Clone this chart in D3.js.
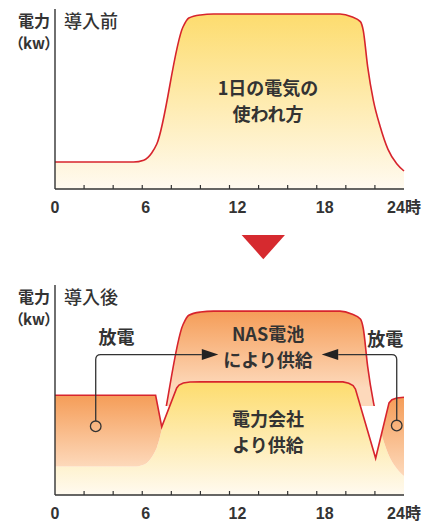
<!DOCTYPE html>
<html><head><meta charset="utf-8">
<script src="https://cdn.jsdelivr.net/npm/d3@7"></script>
<style>
html,body{margin:0;padding:0;background:#fff;}
svg{display:block;}
text{font-family:"Noto Sans CJK JP","Noto Sans",sans-serif;fill:#333;}
</style></head><body>
<svg id="chart" width="436" height="521"></svg>
<script>
// ---- data (hours of day, power in relative kw units) ----
const demandHours = [0,5.4,6.1,6.65,7.0,8.8,9.2,10,10.9,19.6,20.4,21.0,21.2,21.5,21.9,22.35,22.9,23.5,24];
const demand      = [15,15,16,20,25,90,95,96.7,97.2,97.2,95.7,93,88,68,49,35,22,14,10];
const supplyHours = [0,6.92,7.34,8.37,8.53,8.82,9.28,10,19.8,20.2,20.5,20.66,22.05,22.97,23.17,23.5,24];
const supply      = [52.7,52.7,36,56.6,58.1,59.2,59.7,59.8,59.8,59.1,57.8,56,19.4,48.7,50.4,51.3,51.7];
const labelHours  = [0,6,12,18,24];
const tickLabels  = ["0","6","12","18","24時"];
const minorHours  = [2,4,6,8,10,12,14,16,18,20,22];
const nasFloor    = 47;

const demandPts = demandHours.map((h,i)=>({h, v:demand[i]}));
const supplyPts = supplyHours.map((h,i)=>({h, v:supply[i]}));

const svg = d3.select("#chart");
const defs = svg.append("defs");
const RED = "#d7242d", INK = "#333";

const x  = d3.scaleLinear().domain([0,24]).range([55,404]);
const yT = d3.scaleLinear().domain([0,100]).range([189,9]);
const yB = d3.scaleLinear().domain([0,111]).range([495,285]);

function grad(id, y1, y2, c1, c2){
  const g = defs.append("linearGradient").attr("id",id)
    .attr("gradientUnits","userSpaceOnUse").attr("x1",0).attr("x2",0).attr("y1",y1).attr("y2",y2);
  g.append("stop").attr("offset",0).attr("stop-color",c1);
  g.append("stop").attr("offset",1).attr("stop-color",c2);
}
const YEL1="#fddc6e", YEL2="#fffaf0", OR1="#f59d58", OR2="#fdd9bb";
grad("gTop", yT(d3.max(demand)), yT(0), YEL1, YEL2);
grad("gBase", yB(d3.max(supply)), yB(0), YEL1, YEL2);
grad("gNas", yB(d3.max(demand)), yB(d3.max(supply))+6, OR1, OR2);
grad("gChL", yB(supply[0]), yB(demand[0]), OR1, OR2);
grad("gChR", yB(supply[supply.length-1]), yB(demand[demand.length-1]), OR1, OR2);

// ---------- top chart ----------
const areaT = d3.area().x(d=>x(d.h)).y0(yT(0)).y1(d=>yT(d.v)).curve(d3.curveMonotoneX);
const lineT = d3.line().x(d=>x(d.h)).y(d=>yT(d.v)).curve(d3.curveMonotoneX);
svg.append("path").attr("d",areaT(demandPts)).attr("fill","url(#gTop)");
svg.append("path").attr("d",lineT(demandPts)).attr("fill","none").attr("stroke",RED).attr("stroke-width",1.6);

// ---------- bottom chart ----------
const vMax = yB.domain()[1];
const dArea = (y0)=>d3.area().x(d=>x(d.h)).y0(y0).y1(d=>yB(d.v)).curve(d3.curveMonotoneX);
const sArea = (y0)=>d3.area().x(d=>x(d.h)).y0(y0).y1(d=>yB(d.v)).curve(d3.curveLinear);
function clip(id, d){ defs.append("clipPath").attr("id",id).append("path").attr("d",d); }
clip("underDemand", dArea(yB(0))(demandPts));
clip("aboveDemand", dArea(yB(vMax))(demandPts));
clip("aboveSupply", sArea(yB(vMax))(supplyPts));
defs.append("clipPath").attr("id","aboveFloor").append("rect")
  .attr("x",x(0)).attr("y",yB(vMax)).attr("width",x(24)-x(0)).attr("height",yB(nasFloor)-yB(vMax));

// base: supplied by power company
svg.append("path").attr("d",sArea(yB(0))(supplyPts)).attr("fill","url(#gBase)").attr("clip-path","url(#underDemand)");
// charging regions (night)
const gCh = svg.append("g").attr("clip-path","url(#aboveDemand)");
gCh.append("path").attr("d",sArea(yB(0))(supplyPts.filter(d=>d.h<=12))).attr("fill","url(#gChL)");
gCh.append("path").attr("d",sArea(yB(0))(supplyPts.filter(d=>d.h>=12))).attr("fill","url(#gChR)");
// NAS supply region
svg.append("g").attr("clip-path","url(#aboveFloor)").append("g").attr("clip-path","url(#aboveSupply)")
  .append("path").attr("d",dArea(yB(0))(demandPts)).attr("fill","url(#gNas)");
// red lines
const lineS = d3.line().x(d=>x(d.h)).y(d=>yB(d.v)).curve(d3.curveLinear);
const lineD = d3.line().x(d=>x(d.h)).y(d=>yB(d.v)).curve(d3.curveMonotoneX);
svg.append("path").attr("d",lineS(supplyPts)).attr("fill","none").attr("stroke",RED).attr("stroke-width",1.6).attr("stroke-linejoin","miter");
svg.append("g").attr("clip-path","url(#aboveFloor)").append("path").attr("d",lineD(demandPts))
  .attr("fill","none").attr("stroke",RED).attr("stroke-width",1.6);

// ---------- axes ----------
function axes(y, labelY, title){
  const y0 = y(0), y1 = y.range()[1];
  svg.append("line").attr("x1",x(0)).attr("x2",x(0)).attr("y1",y1).attr("y2",y0).attr("stroke",INK).attr("stroke-width",1.4);
  svg.append("line").attr("x1",x(0)).attr("x2",x(24)).attr("y1",y0).attr("y2",y0).attr("stroke",INK).attr("stroke-width",1.4);
  svg.selectAll(null).data(minorHours).enter().append("line")
    .attr("x1",d=>x(d)).attr("x2",d=>x(d)).attr("y1",y0).attr("y2",y0-4).attr("stroke",INK).attr("stroke-width",1.2);
  svg.selectAll(null).data(labelHours).enter().append("text")
    .attr("x",d=>x(d)).attr("y",labelY)
    .attr("text-anchor",(d,i)=> (i===0||i===labelHours.length-1) ? "middle" : "start")
    .attr("dx",(d,i)=> (i===0||i===labelHours.length-1) ? 0 : -1)
    .style("font-family",'"Liberation Sans","Noto Sans CJK JP",sans-serif')
    .style("font-weight","bold").style("font-size","16px")
    .text((d,i)=>tickLabels[i]);
  const t = svg.append("text").attr("text-anchor","middle")
    .style("font-weight","bold").style("font-feature-settings",'"palt"');
  t.append("tspan").attr("x",34).attr("y",y1+18).style("font-size","16px").text("電力");
  t.append("tspan").attr("x",34).attr("y",y1+40).style("font-size","15px").text("（kw）");
  svg.append("text").attr("x",x(0)+9).attr("y",y1+19)
    .style("font-size","18px").style("font-weight","500").text(title);
}
axes(yT, 213, "導入前");
axes(yB, 519, "導入後");

// ---------- annotations ----------
const LINE_H = 26.3;
function label(lines, h, v, y){
  const cy = y(v), n = lines.length;
  lines.forEach((s,i)=>{
    svg.append("text").attr("x",x(h)).attr("y",cy + (i-(n-1)/2)*LINE_H).attr("dy","0.36em")
      .attr("text-anchor","middle").style("font-size","18px").style("font-weight","bold").text(s);
  });
}
label(["1日の電気の","使われ方"], 14.65, 48.6, yT);
label(["NAS電池","により供給"], 14.65, 78.0, yB);
label(["電力会社","より供給"], 14.65, 33.2, yB);
label(["放電"], 4.23, 83.2, yB);
label(["放電"], 22.71, 82.1, yB);

// arrows from discharge circles
function arrow(ch, cv, av, tipH){
  const cx = x(ch), cy = yB(cv), ay = yB(av), tx = x(tipH);
  const dir = tx > cx ? 1 : -1, r = 5.3, rad = 5, head = 16.5, hw = 5.5;
  svg.append("circle").attr("cx",cx).attr("cy",cy).attr("r",r).attr("fill","none").attr("stroke",INK).attr("stroke-width",1.3);
  svg.append("path").attr("d",`M${cx},${cy-r}V${ay+rad}Q${cx},${ay} ${cx+dir*rad},${ay}H${tx-dir*head}`)
    .attr("fill","none").attr("stroke",INK).attr("stroke-width",1.3);
  svg.append("path").attr("d",`M${tx},${ay}L${tx-dir*head},${ay-hw}L${tx-dir*head},${ay+hw}Z`).attr("fill","#222");
}
arrow(2.8, 36.3, 74.2, 11.23);
arrow(23.5, 36.7, 74.2, 18.34);

// red down-pointing triangle between charts
const triC = 263.3, triTop = 235, triW = 43.3, triH = 24.3;
svg.append("path").attr("d",`M${triC-triW/2},${triTop}L${triC+triW/2},${triTop}L${triC},${triTop+triH}Z`).attr("fill","#d62a2f");
</script>
</body></html>
